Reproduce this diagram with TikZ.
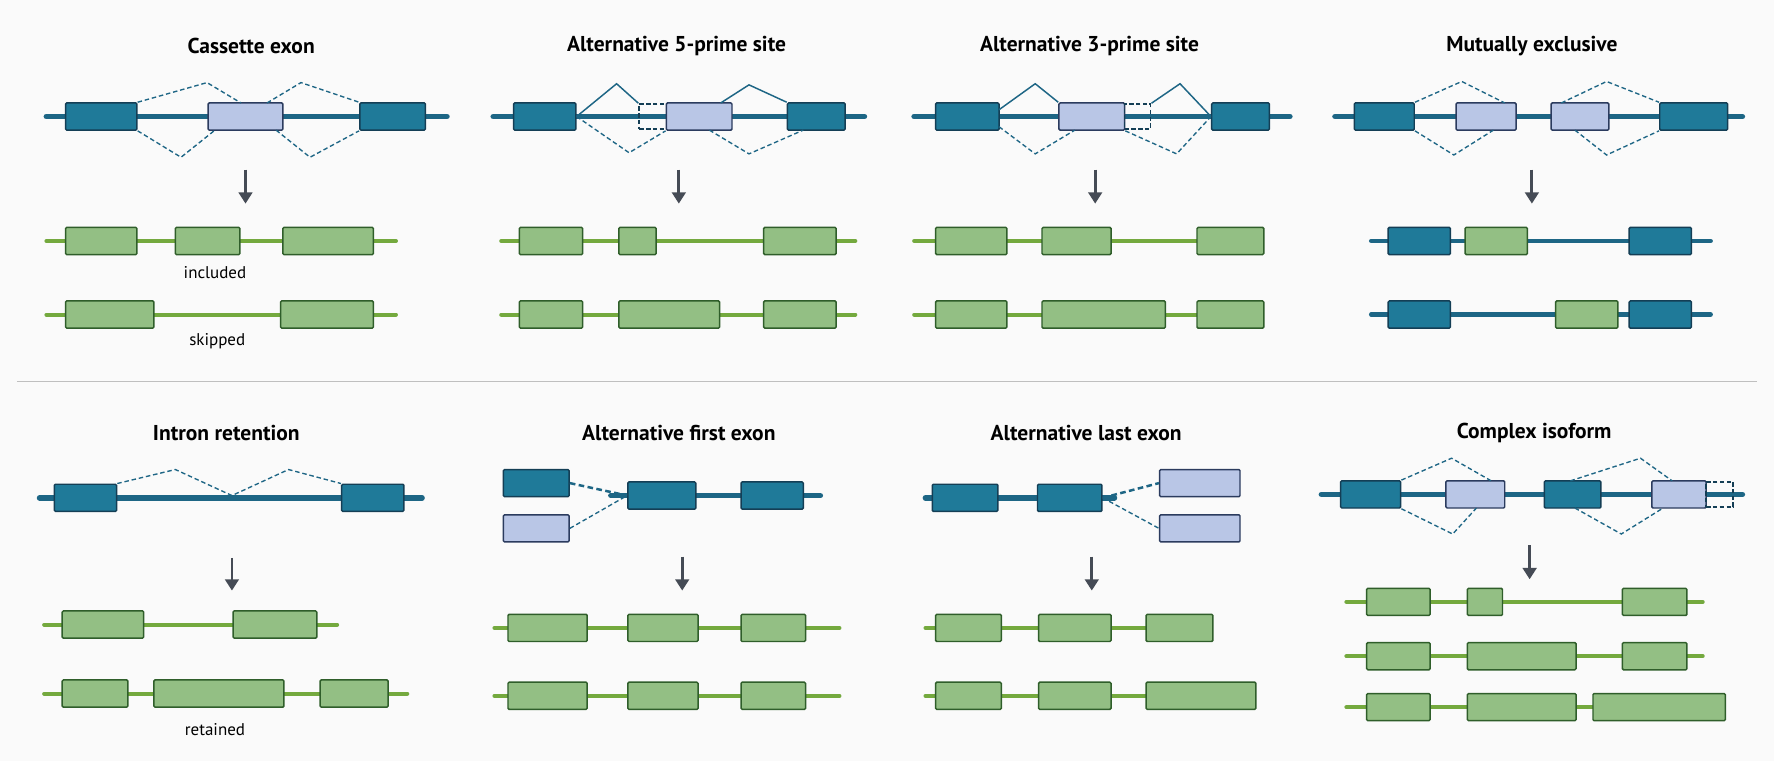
\documentclass[tikz,border=0pt]{standalone}
\usetikzlibrary{arrows.meta}
\usepackage{fontspec}
\setmainfont{PT Sans}
\definecolor{dfill}{HTML}{1F7A99}\definecolor{dstroke}{HTML}{143E55}
\definecolor{lfill}{HTML}{B9C6E6}\definecolor{lstroke}{HTML}{2B3B5E}
\definecolor{gfill}{HTML}{93BF84}\definecolor{gstroke}{HTML}{2F5E2A}
\definecolor{gln}{HTML}{74A93E}\definecolor{bln}{HTML}{1D6685}
\definecolor{jn}{HTML}{1E6685}\definecolor{arc}{HTML}{454B55}
\begin{document}
\begin{tikzpicture}[x=1pt,y=-1pt,
 dex/.style={draw=dstroke,fill=dfill,line width=1.3pt,rounded corners=1pt,inner sep=0pt},
 lex/.style={draw=lstroke,fill=lfill,line width=1.3pt,rounded corners=1pt,inner sep=0pt},
 gex/.style={draw=gstroke,fill=gfill,line width=1.3pt,rounded corners=1pt,inner sep=0pt},
 bex/.style={draw=dstroke,fill=dfill,line width=1.3pt,rounded corners=1pt,inner sep=0pt},
 pex/.style={draw=dstroke,dash pattern=on 4pt off 2pt,line width=1.5pt,inner sep=0pt},
 gline/.style={line width=5pt,draw=bln,line cap=round},
 mline/.style={line width=3.5pt,draw=gln,line cap=round},
 junc/.style={draw=jn,line width=1.2pt,dash pattern=on 4pt off 2.5pt},
 sjunc/.style={draw=jn,line width=1.3pt},
 tjunc/.style={draw=jn,line width=2.2pt,dash pattern=on 5pt off 3pt},
 arr/.style={draw=arc,line width=2.5pt,-{Triangle[length=10pt,width=12pt]}},
 ttl/.style={font=\bfseries\fontsize{19}{22}\selectfont},
 lbl/.style={font=\fontsize{15}{17}\selectfont}]
\fill[black!2] (0,0) rectangle (1568,673);
\useasboundingbox (0,0) rectangle (1568,673);
\newcommand\ex[6][24]{\node[#2,minimum width={(#5-#4)*1pt},minimum height=#1pt] (#3) at ({(#4+#5)/2},#6) {};}
\newcommand\gl[4]{\coordinate (#1a) at (#2,#4); \coordinate (#1b) at (#3,#4);}
\draw[black!25,line width=1pt] (15,337) -- (1553,337);
% ---------- Panel 1
\node[ttl] (t1) at (222,41) {Cassette exon};
\gl{g1}{41}{395}{103} \draw[gline] (g1a) -- (g1b);
\ex{dex}{a1}{58}{121}{103}\ex{lex}{a2}{184}{250}{103}\ex{dex}{a3}{318}{376}{103}
\draw[junc] (a1.north east) -- (183,73) -- (213,91);
\draw[junc] (236,91) -- (266,73) -- (a3.north west);
\draw[junc] (a1.south east) -- (160,139) -- (190,115);
\draw[junc] (244,115) -- (274,139) -- (a3.south west);
\coordinate (r1s) at (217,150); \coordinate (r1e) at (217,180); \draw[arr] (r1s) -- (r1e);
\gl{m11}{41}{350}{213} \draw[mline] (m11a) -- (m11b);
\ex{gex}{b11}{58}{121}{213}\ex{gex}{b12}{155}{212}{213}\ex{gex}{b13}{250}{330}{213}
\node[lbl] (l11) at (190,241) {included};
\gl{m12}{41}{350}{278} \draw[mline] (m12a) -- (m12b);
\ex{gex}{b14}{58}{136}{278}\ex{gex}{b15}{248}{330}{278}
\node[lbl] (l12) at (192,302) {skipped};
% ---------- Panel 2
\node[ttl] (t2) at (598,41) {Alternative 5-prime site};
\gl{g2}{436}{764}{103} \draw[gline] (g2a) -- (g2b);
\ex{dex}{c1}{454}{509}{103}\ex[22]{pex}{c2}{565}{589}{103}\ex{lex}{c3}{589}{647}{103}\ex{dex}{c4}{696}{747}{103}
\draw[sjunc] (c1.east) -- (545,74) -- (c2.north west);
\draw[sjunc] (637,91) -- (662,75) -- (c4.north west);
\draw[junc] (c1.east) -- (556,135) -- (c3.south west);
\draw[junc] (627,115) -- (662,136) -- (710,115);
\coordinate (r2s) at (600,150); \coordinate (r2e) at (600,180); \draw[arr] (r2s) -- (r2e);
\gl{m21}{443}{756}{213} \draw[mline] (m21a) -- (m21b);
\ex{gex}{d1}{459}{515}{213}\ex{gex}{d2}{547}{580}{213}\ex{gex}{d3}{675}{739}{213}
\gl{m22}{443}{756}{278} \draw[mline] (m22a) -- (m22b);
\ex{gex}{d4}{459}{515}{278}\ex{gex}{d5}{547}{636}{278}\ex{gex}{d6}{675}{739}{278}
% ---------- Panel 3
\node[ttl] (t3) at (963,41) {Alternative 3-prime site};
\gl{g3}{808}{1140}{103} \draw[gline] (g3a) -- (g3b);
\ex{dex}{e1}{827}{883}{103}\ex{lex}{e2}{936}{994}{103}\ex[22]{pex}{e3}{994}{1017}{103}\ex{dex}{e4}{1071}{1122}{103}
\draw[sjunc] (883,97) -- (915,74) -- (e2.north west);
\draw[sjunc] (e3.north east) -- (1043,74) -- (e4.west);
\draw[junc] (883,112) -- (915,136) -- (950,115);
\draw[junc] (e2.south east) -- (1040,136) -- (e4.west);
\coordinate (r3s) at (968,150); \coordinate (r3e) at (968,180); \draw[arr] (r3s) -- (r3e);
\gl{m31}{808}{1110}{213} \draw[mline] (m31a) -- (m31b);
\ex{gex}{f1}{827}{890}{213}\ex{gex}{f2}{921}{982}{213}\ex{gex}{f3}{1058}{1117}{213}
\gl{m32}{808}{1110}{278} \draw[mline] (m32a) -- (m32b);
\ex{gex}{f4}{827}{890}{278}\ex{gex}{f5}{921}{1030}{278}\ex{gex}{f6}{1058}{1117}{278}
% ---------- Panel 4
\node[ttl] (t4) at (1354,41) {Mutually exclusive};
\gl{g4}{1180}{1540}{103} \draw[gline] (g4a) -- (g4b);
\ex{dex}{h1}{1197}{1250}{103}\ex{lex}{h2}{1287}{1340}{103}\ex{lex}{h3}{1371}{1422}{103}\ex{dex}{h4}{1467}{1527}{103}
\draw[junc] (h1.north east) -- (1292,72) -- (1330,91);
\draw[junc] (1380,91) -- (1420,72) -- (h4.north west);
\draw[junc] (h1.south east) -- (1285,137) -- (1320,115);
\draw[junc] (1392,115) -- (1420,137) -- (h4.south west);
\coordinate (r4s) at (1354,150); \coordinate (r4e) at (1354,180); \draw[arr] (r4s) -- (r4e);
\gl{m41}{1212}{1512}{213} \draw[gline,line width=4pt] (m41a) -- (m41b);
\ex{bex}{k1}{1227}{1282}{213}\ex{gex}{k2}{1295}{1350}{213}\ex{bex}{k3}{1440}{1495}{213}
\gl{m42}{1212}{1512}{278} \draw[gline,line width=4pt] (m42a) -- (m42b);
\ex{bex}{k4}{1227}{1282}{278}\ex{gex}{k5}{1375}{1430}{278}\ex{bex}{k6}{1440}{1495}{278}
% ---------- Panel 5
\node[ttl] (t5) at (200,383) {Intron retention};
\gl{g5}{35}{373}{440} \draw[gline] (g5a) -- (g5b);
\ex{dex}{p1}{48}{103}{440}\ex{dex}{p2}{302}{357}{440}
\draw[junc] (p1.north east) -- (155,415) -- (205,438) -- (255,415) -- (p2.north west);
\coordinate (r5s) at (205,493); \coordinate (r5e) at (205,522); \draw[arr] (r5s) -- (r5e);
\gl{m51}{39}{298}{552} \draw[mline] (m51a) -- (m51b);
\ex{gex}{q1}{55}{127}{552}\ex{gex}{q2}{206}{280}{552}
\gl{m52}{39}{360}{613} \draw[mline] (m52a) -- (m52b);
\ex{gex}{q3}{55}{113}{613}\ex{gex}{q4}{136}{251}{613}\ex{gex}{q5}{283}{343}{613}
\node[lbl] (l5) at (190,645) {retained};
% ---------- Panel 6
\node[ttl] (t6) at (600,383) {Alternative first exon};
\gl{g6}{540}{725}{438} \draw[gline] (g6a) -- (g6b);
\ex{dex}{s1}{445}{503}{427}\ex{lex}{s2}{445}{503}{467}
\ex{dex}{s3}{555}{615}{438}\ex{dex}{s4}{655}{710}{438}
\draw[tjunc] (s1.east) -- (s3.west);
\draw[junc] (s2.east) -- (s3.west);
\coordinate (r6s) at (603,492); \coordinate (r6e) at (603,522); \draw[arr] (r6s) -- (r6e);
\gl{m61}{437}{742}{555} \draw[mline] (m61a) -- (m61b);
\ex{gex}{u1}{449}{519}{555}\ex{gex}{u2}{555}{617}{555}\ex{gex}{u3}{655}{712}{555}
\gl{m62}{437}{742}{615} \draw[mline] (m62a) -- (m62b);
\ex{gex}{u4}{449}{519}{615}\ex{gex}{u5}{555}{617}{615}\ex{gex}{u6}{655}{712}{615}
% ---------- Panel 7
\node[ttl] (t7) at (960,383) {Alternative last exon};
\gl{g7}{818}{985}{440} \draw[gline] (g7a) -- (g7b);
\ex{dex}{v1}{824}{882}{440}\ex{dex}{v2}{917}{974}{440}
\ex{lex}{v3}{1025}{1096}{427}\ex{lex}{v4}{1025}{1096}{467}
\draw[tjunc] (v2.east) -- (v3.west);
\draw[junc] (v2.east) -- (v4.west);
\coordinate (r7s) at (965,492); \coordinate (r7e) at (965,522); \draw[arr] (r7s) -- (r7e);
\gl{m71}{818}{1060}{555} \draw[mline] (m71a) -- (m71b);
\ex{gex}{w1}{827}{885}{555}\ex{gex}{w2}{918}{982}{555}\ex{gex}{w3}{1013}{1072}{555}
\gl{m72}{818}{1100}{615} \draw[mline] (m72a) -- (m72b);
\ex{gex}{w4}{827}{885}{615}\ex{gex}{w5}{918}{982}{615}\ex{gex}{w6}{1013}{1110}{615}
% ---------- Panel 8
\node[ttl] (t8) at (1356,383) {Complex isoform};
\gl{g8}{1168}{1540}{437} \draw[gline] (g8a) -- (g8b);
\ex{dex}{x1}{1185}{1238}{437}\ex{lex}{x2}{1278}{1330}{437}\ex{dex}{x3}{1365}{1415}{437}\ex{lex}{x4}{1460}{1508}{437}\ex[22]{pex}{x5}{1508}{1532}{437}
\draw[junc] (x1.north east) -- (1283,405) -- (1318,425);
\draw[junc] (1388,425) -- (1450,405) -- (1478,425);
\draw[junc] (x1.south east) -- (1284,472) -- (1305,449);
\draw[junc] (1392,449) -- (1433,472) -- (1470,449);
\coordinate (r8s) at (1352,482); \coordinate (r8e) at (1352,512); \draw[arr] (r8s) -- (r8e);
\gl{m81}{1190}{1505}{532} \draw[mline] (m81a) -- (m81b);
\ex{gex}{y1}{1208}{1264}{532}\ex{gex}{y2}{1297}{1328}{532}\ex{gex}{y3}{1434}{1491}{532}
\gl{m82}{1190}{1505}{580} \draw[mline] (m82a) -- (m82b);
\ex{gex}{y4}{1208}{1264}{580}\ex{gex}{y5}{1297}{1393}{580}\ex{gex}{y6}{1434}{1491}{580}
\gl{m83}{1190}{1520}{625} \draw[mline] (m83a) -- (m83b);
\ex{gex}{y7}{1208}{1264}{625}\ex{gex}{y8}{1297}{1393}{625}\ex{gex}{y9}{1408}{1525}{625}
\end{tikzpicture}
\end{document}
